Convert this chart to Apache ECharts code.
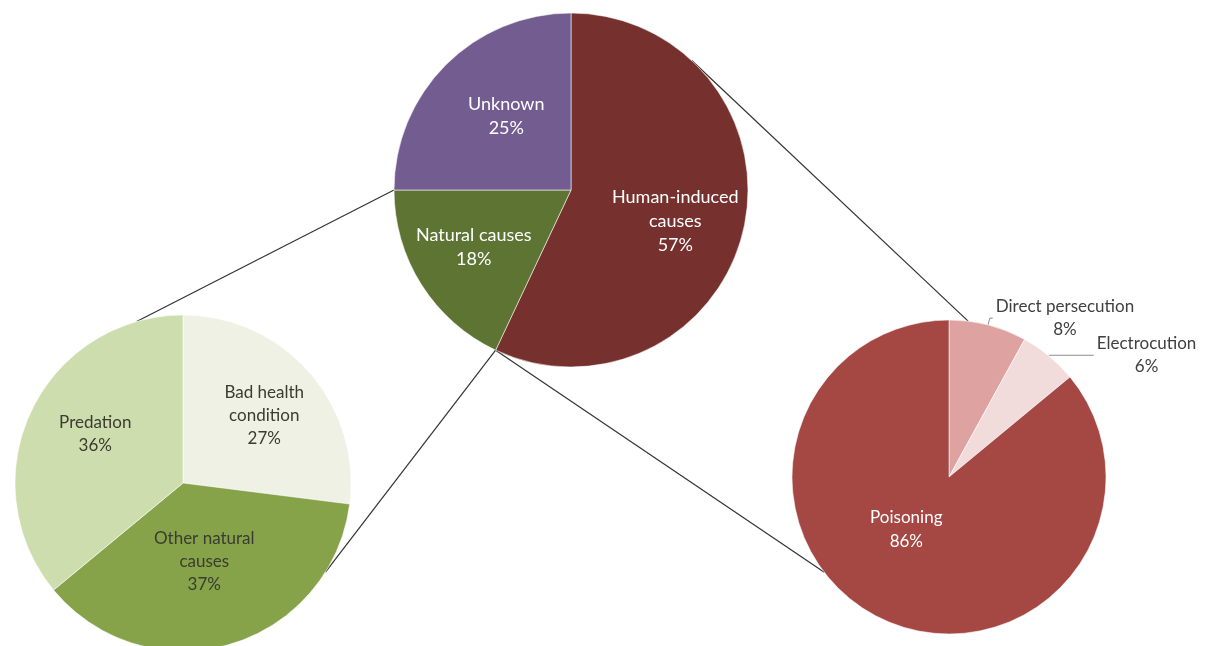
<!DOCTYPE html>
<html><head><meta charset="utf-8">
<script src="https://cdn.jsdelivr.net/npm/echarts@6/dist/echarts.min.js"></script>
<style>html,body{margin:0;padding:0;background:#fff}#chart{width:1205px;height:646px}</style>
</head><body><div id="chart"></div>
<script>
// ---- data ----
const mainCategories = ['Human-induced\ncauses', 'Natural causes', 'Unknown'];
const mainValues = [57, 18, 25];
const naturalCategories = ['Bad health\ncondition', 'Other natural\ncauses', 'Predation'];
const naturalValues = [27, 37, 36];
const humanCategories = ['Direct persecution', 'Electrocution', 'Poisoning'];
const humanValues = [8, 6, 86];

// ---- styling / layout ----
const FONT = 'Lato';
const mainColors = ['#76312E', '#5E7432', '#735D90'];
const naturalColors = ['#EEF1E4', '#86A34A', '#CEDDAE'];
const humanColors = ['#DEA3A0', '#F2DCDB', '#A54844'];
const pies = {
  main: { c: [571, 190], r: 177 },
  natural: { c: [183, 483], r: 168 },
  human: { c: [949, 477], r: 157 }
};
const nudges = {
  0: [[15, 11], [-20, 8], [0, -9]],
  1: [[16, -10], [-3, -5], [-9, -12]],
  2: [[0, 0], [0, 0], [-8, -21]]
};

function pt(p, deg) {
  const a = deg * Math.PI / 180;
  return [p.c[0] + p.r * Math.sin(a), p.c[1] - p.r * Math.cos(a)];
}
function cumAngle(values, upto) {
  const tot = values.reduce((s, v) => s + v, 0);
  let s = 0; for (let i = 0; i < upto; i++) s += values[i];
  return s / tot * 360;
}
const mainHumanEnd = cumAngle(mainValues, 1);
const mainNaturalEnd = cumAngle(mainValues, 2);
const connectors = [
  [pt(pies.main, mainNaturalEnd), pt(pies.natural, 344)],
  [pt(pies.main, mainHumanEnd), pt(pies.natural, 122)],
  [pt(pies.main, 43), pt(pies.human, 7)],
  [pt(pies.main, mainHumanEnd), pt(pies.human, 232.6)]
];

const border = { borderColor: 'rgba(255,255,255,0.55)', borderWidth: 1 };

const chart = echarts.init(document.getElementById('chart'));
chart.setOption({
  animation: false,
  backgroundColor: '#ffffff',
  graphic: connectors.map(([a, b]) => ({
    type: 'line', z: 1,
    shape: { x1: a[0], y1: a[1], x2: b[0], y2: b[1] },
    style: { stroke: '#333333', lineWidth: 1.2 }
  })),
  series: [
    {
      type: 'pie', z: 3, center: pies.main.c, radius: pies.main.r,
      startAngle: 90, clockwise: true, avoidLabelOverlap: false,
      itemStyle: border,
      label: { position: 'inside', color: '#ffffff', fontFamily: FONT, fontSize: 18, lineHeight: 24,
        formatter: p => p.name + '\n' + p.value + '%' },
      labelLayout: p => ({ dx: nudges[0][p.dataIndex][0], dy: nudges[0][p.dataIndex][1] }),
      data: mainCategories.map((n, i) => ({ name: n, value: mainValues[i], itemStyle: { color: mainColors[i] } }))
    },
    {
      type: 'pie', z: 3, center: pies.natural.c, radius: pies.natural.r,
      startAngle: 90, clockwise: true, avoidLabelOverlap: false,
      itemStyle: border,
      label: { position: 'inside', color: '#3b3b30', fontFamily: FONT, fontSize: 17, lineHeight: 23,
        formatter: p => p.name + '\n' + p.value + '%' },
      labelLayout: p => ({ dx: nudges[1][p.dataIndex][0], dy: nudges[1][p.dataIndex][1] }),
      data: naturalCategories.map((n, i) => ({ name: n, value: naturalValues[i], itemStyle: { color: naturalColors[i] } }))
    },
    {
      type: 'pie', z: 3, center: pies.human.c, radius: pies.human.r,
      startAngle: 90, clockwise: true, avoidLabelOverlap: false,
      itemStyle: border,
      labelLine: { lineStyle: { color: '#8c8c8c', width: 1 }, smooth: false },
      data: humanCategories.map((n, i) => {
        const outside = i < 2;
        return {
          name: n, value: humanValues[i], itemStyle: { color: humanColors[i] },
          label: outside ? {
            show: true, position: 'outside', distanceToLabelLine: 3,
            formatter: p => '{n|' + p.name + '}\n{n|' + p.value + '%}',
            rich: { n: { align: 'center', color: '#404040', fontFamily: FONT, fontSize: 17, lineHeight: 23 } }
          } : {
            show: true, position: 'inside', color: '#ffffff', fontFamily: FONT, fontSize: 17, lineHeight: 24,
            formatter: p => p.name + '\n' + p.value + '%'
          },
          labelLine: outside ? (i === 0 ? { show: true, length: 7, length2: 3 } : { show: true, length: 1, length2: 44 }) : { show: false }
        };
      }),
      labelLayout: p => ({ dx: nudges[2][p.dataIndex][0], dy: nudges[2][p.dataIndex][1] })
    }
  ]
});
</script></body></html>
